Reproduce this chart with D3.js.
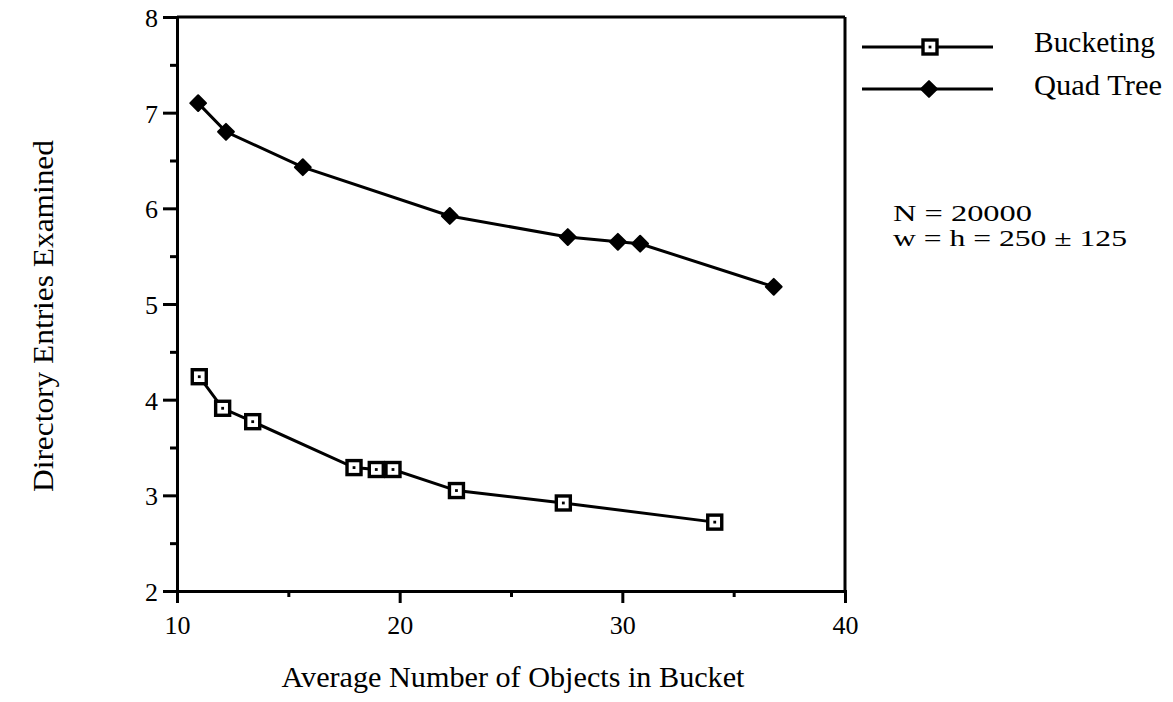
<!DOCTYPE html>
<html><head><meta charset="utf-8">
<script src="https://cdn.jsdelivr.net/npm/d3@7"></script>
<style>
body{margin:0;background:#fff;}
svg{display:block;}
text{font-family:"Liberation Serif","Times New Roman",serif;fill:#000;}
</style></head>
<body>
<svg id="chart" width="1173" height="702"></svg>
<script>
// ---- data ----
const bucketX = [11.0, 12.05, 13.4, 17.95, 18.95, 19.7, 22.55, 27.35, 34.15];
const bucketY = [4.24, 3.91, 3.77, 3.29, 3.27, 3.27, 3.05, 2.92, 2.72];
const quadX = [10.95, 12.2, 15.65, 22.25, 27.55, 29.8, 30.8, 36.8];
const quadY = [7.10, 6.80, 6.43, 5.92, 5.70, 5.65, 5.63, 5.18];
const seriesNames = ["Bucketing", "Quad Tree"];
const xTickMajor = [10, 20, 30, 40];
const xTickMinor = [15, 25, 35];
const yTickMajor = [2, 3, 4, 5, 6, 7, 8];
const yTickMinor = [2.5, 3.5, 4.5, 5.5, 6.5, 7.5];
const xTitle = "Average Number of Objects in Bucket";
const yTitle = "Directory Entries Examined";
const notes = ["N = 20000", "w = h = 250 \u00B1 125"];

// ---- layout ----
const svg = d3.select("#chart");
const x = d3.scaleLinear().domain([10, 40]).range([177, 845]);
const y = d3.scaleLinear().domain([2, 8]).range([591, 17]);
const SW = 3;
const FONT = '"Liberation Serif","Times New Roman",serif';

// frame top and right
svg.append("line").attr("x1", x(10)).attr("x2", x(40)).attr("y1", y(8)).attr("y2", y(8))
  .attr("stroke", "#000").attr("stroke-width", SW);
svg.append("line").attr("x1", x(40)).attr("x2", x(40)).attr("y1", y(8)).attr("y2", y(2))
  .attr("stroke", "#000").attr("stroke-width", SW);

function styleAxis(g) {
  g.attr("font-family", FONT).attr("font-size", 26);
  g.select(".domain").attr("stroke", "#000").attr("stroke-width", SW);
  g.selectAll(".tick line").attr("stroke", "#000").attr("stroke-width", SW);
  g.selectAll(".tick text").style("font-family", FONT).style("font-size", "26px");
}

// y axis
const gyMinor = svg.append("g").attr("transform", `translate(${x(10)},0)`)
  .call(d3.axisLeft(y).tickValues(yTickMinor).tickSize(7).tickFormat(""));
styleAxis(gyMinor);
const gy = svg.append("g").attr("transform", `translate(${x(10)},0)`)
  .call(d3.axisLeft(y).tickValues(yTickMajor).tickSize(14).tickPadding(5).tickFormat(d3.format("d")));
styleAxis(gy);
gy.selectAll(".tick text").attr("dy", "0.36em");

// x axis
const gxMinor = svg.append("g").attr("transform", `translate(0,${y(2)})`)
  .call(d3.axisBottom(x).tickValues(xTickMinor).tickSize(6).tickFormat(""));
styleAxis(gxMinor);
const gx = svg.append("g").attr("transform", `translate(0,${y(2)})`)
  .call(d3.axisBottom(x).tickValues(xTickMajor).tickSize(12).tickPadding(13).tickFormat(d3.format("d")));
styleAxis(gx);

// titles
svg.append("text").attr("x", 513).attr("y", 687).attr("text-anchor", "middle")
  .style("font-size", "30px").attr("textLength", 463).attr("lengthAdjust", "spacingAndGlyphs").text(xTitle);
svg.append("text").attr("transform", "translate(53,316) rotate(-90)").attr("text-anchor", "middle")
  .style("font-size", "30px").attr("textLength", 352).attr("lengthAdjust", "spacingAndGlyphs").text(yTitle);

// series
const line = d3.line().x(d => x(d[0])).y(d => y(d[1]));
const bucketPts = bucketX.map((v, i) => [v, bucketY[i]]);
const quadPts = quadX.map((v, i) => [v, quadY[i]]);

function drawSquare(g, cx, cy) {
  g.append("rect").attr("x", cx - 7).attr("y", cy - 7).attr("width", 14).attr("height", 14)
    .attr("fill", "#fff").attr("stroke", "#000").attr("stroke-width", 3.4);
  g.append("rect").attr("x", cx - 1.4).attr("y", cy - 1.4).attr("width", 2.8).attr("height", 2.8).attr("fill", "#000");
}
function drawDiamond(g, cx, cy) {
  g.append("path").attr("d", d3.symbol().type(d3.symbolSquare).size(125)())
    .attr("transform", `translate(${cx},${cy}) rotate(45)`).attr("fill", "#000")
    .attr("stroke", "#000").attr("stroke-width", 2).attr("stroke-linejoin", "round");
}

svg.append("path").datum(quadPts).attr("d", line).attr("fill", "none").attr("stroke", "#000").attr("stroke-width", SW);
svg.append("path").datum(bucketPts).attr("d", line).attr("fill", "none").attr("stroke", "#000").attr("stroke-width", SW);
const gm = svg.append("g");
quadPts.forEach(p => drawDiamond(gm, x(p[0]), y(p[1])));
bucketPts.forEach(p => drawSquare(gm, x(p[0]), y(p[1])));

// legend
const leg = svg.append("g");
const legRows = [{name: seriesNames[0], ly: 47, ty: 52, mk: "sq"}, {name: seriesNames[1], ly: 89, ty: 95, mk: "di"}];
legRows.forEach(r => {
  leg.append("line").attr("x1", 862).attr("x2", 993).attr("y1", r.ly).attr("y2", r.ly)
    .attr("stroke", "#000").attr("stroke-width", SW);
  if (r.mk === "sq") drawSquare(leg, 930, r.ly); else drawDiamond(leg, 929, r.ly);
  leg.append("text").attr("x", 1034).attr("y", r.ty).style("font-size", "29px")
    .attr("textLength", r.mk === "sq" ? 121 : 128).attr("lengthAdjust", "spacingAndGlyphs").text(r.name);
});

// annotation
svg.append("text").attr("x", 893).attr("y", 221).style("font-size", "23px")
  .attr("textLength", 139).attr("lengthAdjust", "spacingAndGlyphs").text(notes[0]);
svg.append("text").attr("x", 893).attr("y", 246).style("font-size", "23px")
  .attr("textLength", 234).attr("lengthAdjust", "spacingAndGlyphs").text(notes[1]);
</script>
</body></html>
